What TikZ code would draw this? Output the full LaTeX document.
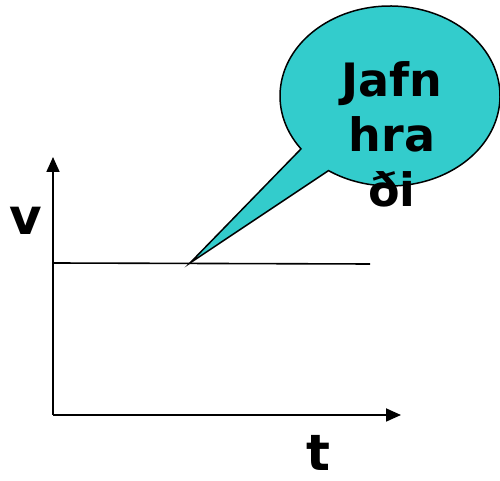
\documentclass[tikz,border=0pt]{standalone}
\usepackage{fontspec}
\setmainfont{DejaVu Sans}
\usetikzlibrary{calc,arrows.meta}
\definecolor{bubblecyan}{HTML}{33CCCC}
\begin{document}
\begin{tikzpicture}[x=1pt,y=1pt,
  axis/.style={line width=1.8pt,-{Triangle[length=15pt,width=13pt]}},
  bubble/.style={fill=bubblecyan,draw=black,line width=1.5pt,line join=miter},
  lbl/.style={font=\fontsize{50}{56}\selectfont\bfseries,inner sep=0pt},
  btext/.style={font=\fontsize{46}{55}\selectfont\bfseries,align=center}]
\useasboundingbox (0,0) rectangle (500,481);
\coordinate (o) at (53,66);
\coordinate (ytop) at (53,324);
\coordinate (xend) at (401,66);
\coordinate (hl) at (53,218);
\coordinate (hr) at (370,217);
\coordinate (tip) at (190,218);
\coordinate (c) at (390,385);
\draw[axis] (o) -- (ytop);
\draw[axis] (o) -- (xend);
\draw[line width=1.6pt] (hl) -- (hr);
\draw[bubble] (tip) -- ($(c)+(216:110 and 90)$) arc[start angle=216, end angle=-124, x radius=110, y radius=90] -- cycle;
\node[lbl] (v) at (26,260) {v};
\node[lbl] (t) at (318,28) {t};
\node[btext] (txt) at (392,347) {Jafn\\hra\\ði};
\end{tikzpicture}
\end{document}
